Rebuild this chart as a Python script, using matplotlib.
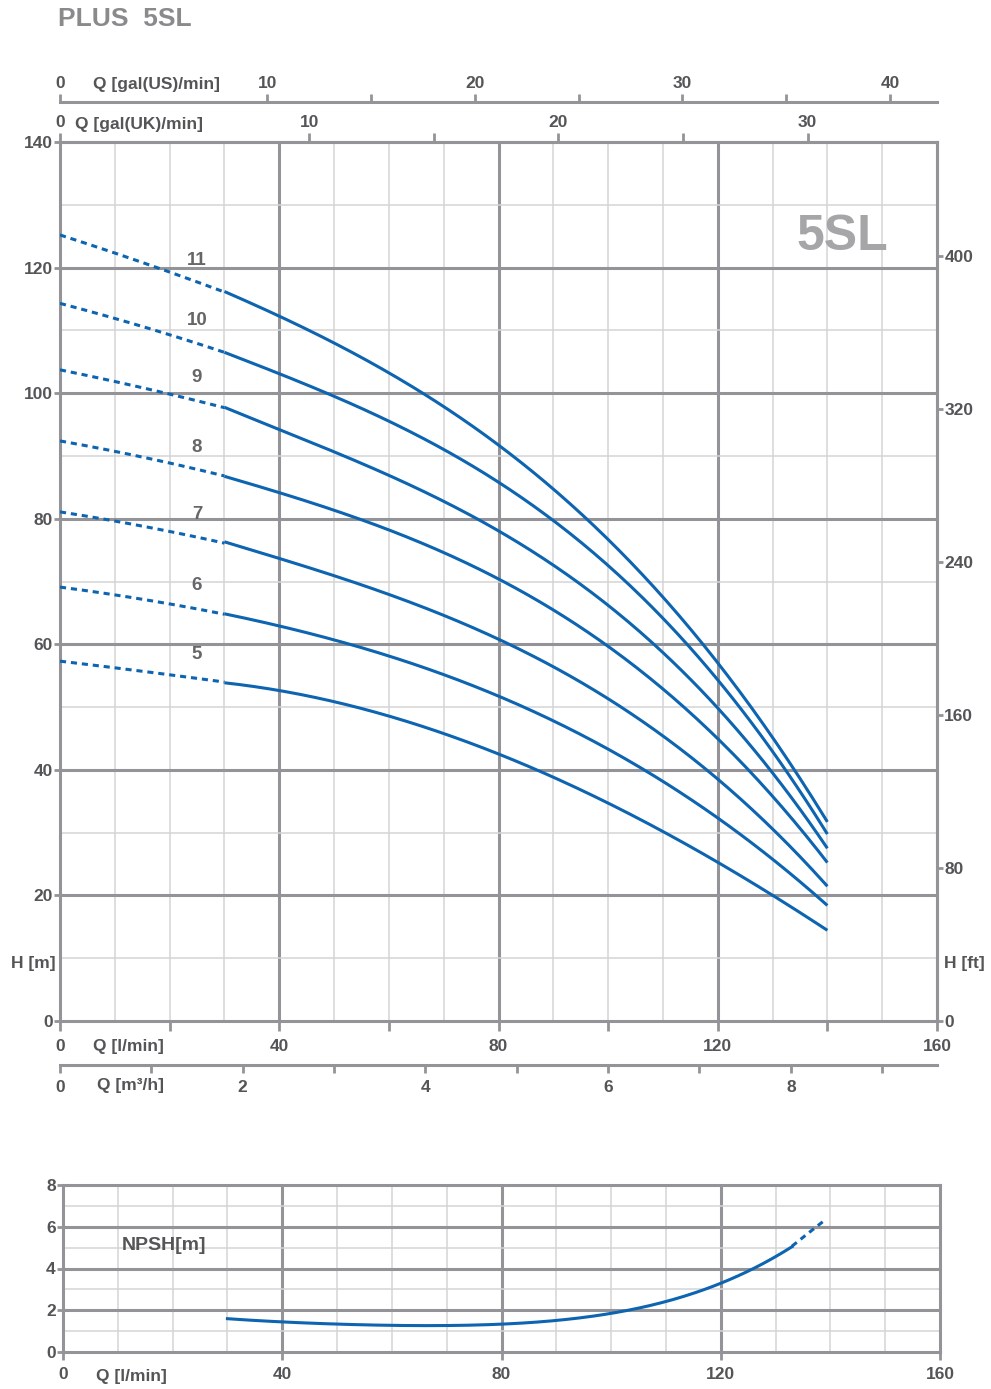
import matplotlib
matplotlib.use("Agg")
import matplotlib.pyplot as plt
import numpy as np

plt.rcParams['font.family'] = ['Liberation Sans', 'DejaVu Sans']
plt.rcParams['font.weight'] = 'bold'

# ---------------- data ----------------
stages = [11, 10, 9, 8, 7, 6, 5]
q_dash = [0, 10, 20, 30]
q_solid = [30, 40, 50, 60, 70, 80, 90, 100, 110, 120, 130, 140]

h_dash = {
    11: [125.2, 122.3, 119.3, 116.1],
    10: [114.3, 111.9, 109.3, 106.5],
    9:  [103.7, 101.9, 99.8, 97.7],
    8:  [92.4, 90.7, 88.9, 86.8],
    7:  [81.1, 79.6, 78.0, 76.1],
    6:  [69.1, 67.9, 66.4, 64.8],
    5:  [57.3, 56.3, 55.1, 54.0],
}
h_solid = {
    11: [116.1, 112.3, 108.1, 103.3, 97.8, 91.7, 84.7, 76.5, 67.6, 57.0, 45.5, 31.5],
    10: [106.5, 103.4, 99.2, 95.3, 91.0, 85.7, 80.0, 73.2, 64.2, 53.5, 42.8, 30.1],
    9:  [97.7, 94.4, 90.6, 86.8, 82.7, 77.8, 72.7, 66.6, 59.2, 49.3, 39.0, 27.9],
    8:  [86.8, 84.1, 81.4, 78.2, 74.6, 70.1, 65.4, 60.2, 53.3, 44.5, 35.3, 25.6],
    7:  [76.1, 73.9, 71.1, 68.0, 64.5, 60.7, 56.2, 51.2, 45.6, 38.9, 30.4, 21.4],
    6:  [64.8, 62.9, 60.8, 58.3, 55.1, 51.6, 47.7, 43.3, 38.3, 32.3, 25.9, 18.3],
    5:  [54.0, 52.4, 50.8, 48.7, 45.9, 42.6, 38.7, 34.6, 30.2, 25.3, 20.1, 14.4],
}
label_x = 25
label_y = {11: 121.2, 10: 111.6, 9: 102.5, 8: 91.4, 7: 80.6, 6: 69.4, 5: 58.3}

npsh_q_solid = [30, 40, 50, 60, 70, 80, 90, 100, 110, 120, 130, 133]
npsh_h_solid = [1.59, 1.45, 1.34, 1.28, 1.26, 1.32, 1.50, 1.88, 2.45, 3.25, 4.55, 5.07]
npsh_q_dash = [133, 136, 139]
npsh_h_dash = [5.07, 5.70, 6.32]

main_xticks = [0, 40, 80, 120, 160]
main_xminor = [20, 60, 100, 140]
main_yticks = [0, 20, 40, 60, 80, 100, 120, 140]
ft_ticks = [0, 80, 160, 240, 320, 400]
us_ticks = [0, 10, 20, 30, 40]
us_minor = [15, 25, 35]
uk_ticks = [0, 10, 20, 30]
uk_minor = [15, 25]
m3h_ticks = [0, 2, 4, 6, 8]
m3h_minor = [1, 3, 5, 7, 9]
npsh_yticks = [0, 2, 4, 6, 8]

# ---------------- style ----------------
BLUE = '#0d64b0'
GMAJ = '#949498'
GMIN = '#d4d4d6'
TXT = '#555558'
LW_MAJ = 2.2
LW_MIN = 1.1
FS = 12.5
DASH = (0, (2.0, 1.6))

fig = plt.figure(figsize=(9.91, 13.89), dpi=100)
W, H = 991, 1389


def axrect(x0, y0, x1, y1):
    return [x0 / W, 1 - y1 / H, (x1 - x0) / W, (y1 - y0) / H]


def style_axis(a):
    for s in a.spines.values():
        s.set_color(GMAJ)
        s.set_linewidth(LW_MAJ)
    a.tick_params(which='both', colors=GMAJ, labelcolor=TXT, labelsize=FS, width=2.0)


def smooth(q, h, deg):
    """Smooth drawing path through the read points (least-squares polynomial)."""
    c = np.polyfit(q, h, deg)
    qq = np.linspace(min(q), max(q), 200)
    return qq, np.polyval(c, qq)


# ---------------- main chart ----------------
ax = fig.add_axes(axrect(60, 142, 937, 1021))
ax.set_xlim(0, 160)
ax.set_ylim(0, 140)
for q in range(10, 160, 10):
    major = q % 40 == 0
    ax.axvline(q, color=GMAJ if major else GMIN, lw=LW_MAJ if major else LW_MIN, zorder=1)
for h in range(10, 140, 10):
    major = h % 20 == 0
    ax.axhline(h, color=GMAJ if major else GMIN, lw=LW_MAJ if major else LW_MIN, zorder=1)
style_axis(ax)
ax.set_xticks(main_xticks)
ax.set_xticks(main_xminor, minor=True)
ax.set_yticks(main_yticks)
ax.tick_params(axis='x', which='both', direction='out', length=7, pad=6)
ax.tick_params(axis='y', which='both', direction='out', length=4.3, pad=1)

for s in stages:
    xd, yd = smooth(q_dash, h_dash[s], 2)
    ax.plot(xd, yd, color=BLUE, lw=2.2, ls=DASH, zorder=3)
    xs, ys = smooth(q_solid, h_solid[s], 3)
    ax.plot(xs, ys, color=BLUE, lw=2.2, zorder=3, solid_capstyle='butt')
    ax.text(label_x, label_y[s], str(s), color='#666668', fontsize=13.5, ha='center', va='center', zorder=4)

ax.text(142.7, 124.8, '5SL', color='#a6a6a9', fontsize=36, ha='center', va='center', zorder=2)
ax.text(-4.9, 9.2, 'H [m]', color=TXT, fontsize=FS, ha='center', va='center')
ax.text(165.0, 9.2, 'H [ft]', color=TXT, fontsize=FS, ha='center', va='center')
ax.text(12.4, -4.0, 'Q [l/min]', color=TXT, fontsize=FS, ha='center', va='center')

# right axis (feet)
secy = ax.secondary_yaxis('right', functions=(lambda m: m / 0.3048, lambda f: f * 0.3048))
secy.set_yticks(ft_ticks)
style_axis(secy)
secy.tick_params(direction='out', length=4.3, pad=1)

# gal(UK) on top of main axes
uk = ax.secondary_xaxis('top', functions=(lambda q: q / 4.54609, lambda g: g * 4.54609))
uk.set_xticks(uk_ticks)
uk.set_xticks(uk_minor, minor=True)
style_axis(uk)
uk.tick_params(which='both', direction='out', length=6.5, pad=2)
ax.text(14.4, 142.8, 'Q [gal(UK)/min]', color=TXT, fontsize=FS, ha='center', va='center')

# gal(US) above
us = ax.secondary_xaxis(1.0455, functions=(lambda q: q / 3.78541, lambda g: g * 3.78541))
us.set_xticks(us_ticks)
us.set_xticks(us_minor, minor=True)
style_axis(us)
us.tick_params(which='both', direction='out', length=6, pad=2)
ax.text(17.6, 149.2, 'Q [gal(US)/min]', color=TXT, fontsize=FS, ha='center', va='center')

# m3/h below
m3 = ax.secondary_xaxis(-0.050, functions=(lambda q: q * 0.06, lambda m: m / 0.06))
m3.set_xticks(m3h_ticks)
m3.set_xticks(m3h_minor, minor=True)
style_axis(m3)
m3.tick_params(which='both', direction='out', length=6, pad=5)
ax.text(12.8, -10.3, 'Q [m³/h]', color=TXT, fontsize=FS, ha='center', va='center')

fig.text(58 / W, 1 - 19 / H, 'PLUS  5SL', color='#8a8a8d', fontsize=19, ha='left', va='center')

# ---------------- NPSH chart ----------------
ax2 = fig.add_axes(axrect(63, 1185, 940, 1352))
ax2.set_xlim(0, 160)
ax2.set_ylim(0, 8)
for q in range(10, 160, 10):
    major = q % 40 == 0
    ax2.axvline(q, color=GMAJ if major else GMIN, lw=LW_MAJ if major else LW_MIN, zorder=1)
for h in range(1, 8):
    major = h % 2 == 0
    ax2.axhline(h, color=GMAJ if major else GMIN, lw=LW_MAJ if major else LW_MIN, zorder=1)
style_axis(ax2)
ax2.set_xticks(main_xticks)
ax2.set_yticks(npsh_yticks)
ax2.tick_params(axis='x', direction='out', length=6, pad=5)
ax2.tick_params(axis='y', direction='out', length=4.3, pad=1)
xn, yn = smooth(npsh_q_solid, npsh_h_solid, 4)
ax2.plot(xn, yn, color=BLUE, lw=2.2, zorder=3)
ax2.plot(npsh_q_dash, npsh_h_dash, color=BLUE, lw=2.2, ls=DASH, zorder=3)
ax2.text(18.5, 5.1, 'NPSH[m]', color=TXT, fontsize=14, ha='center', va='center')
ax2.text(12.4, -1.15, 'Q [l/min]', color=TXT, fontsize=FS, ha='center', va='center')

fig.savefig('out.png', dpi=100, facecolor='white')
